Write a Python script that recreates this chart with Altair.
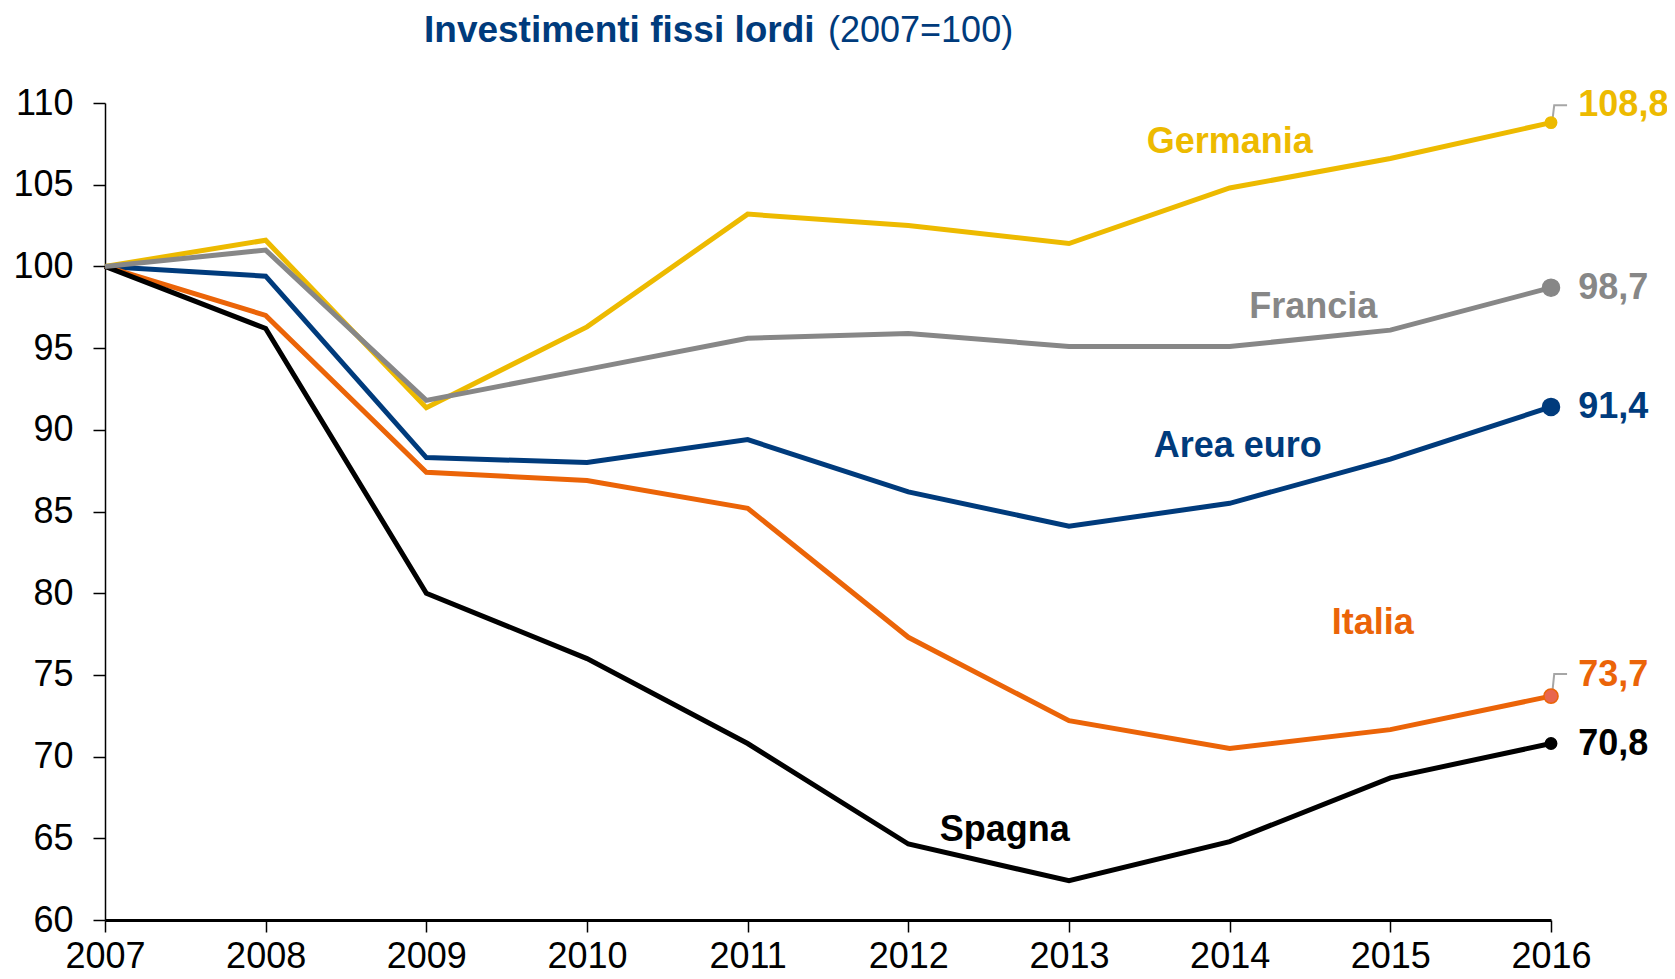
import altair as alt
import pandas as pd

years = [2007, 2008, 2009, 2010, 2011, 2012, 2013, 2014, 2015, 2016]
series_names = ["Germania", "Francia", "Area euro", "Italia", "Spagna"]
germania = [100, 101.6, 91.35, 96.3, 103.2, 102.5, 101.4, 104.8, 106.6, 108.8]
francia = [100, 101.0, 91.8, 93.7, 95.6, 95.9, 95.1, 95.1, 96.1, 98.7]
area_euro = [100, 99.4, 88.3, 88.0, 89.4, 86.2, 84.1, 85.5, 88.2, 91.4]
italia = [100, 97.0, 87.4, 86.9, 85.2, 77.3, 72.2, 70.5, 71.65, 73.7]
spagna = [100, 96.2, 80.0, 76.0, 70.8, 64.65, 62.4, 64.8, 68.7, 70.8]
values = [germania, francia, area_euro, italia, spagna]

end_labels = ["108,8", "98,7", "91,4", "73,7", "70,8"]
end_label_y = [109.9, 98.7, 91.4, 75.0, 70.8]
name_label_x = [2014.0, 2014.52, 2014.05, 2014.89, 2012.6]
name_label_y = [107.6, 97.5, 89.0, 78.2, 65.5]
y_ticks = [60, 65, 70, 75, 80, 85, 90, 95, 100, 105, 110]

leader_series = ["Germania", "Germania", "Germania", "Italia", "Italia", "Italia"]
leader_x = [2016.01, 2016.02, 2016.1, 2016.01, 2016.02, 2016.1]
leader_y = [109.05, 109.86, 109.86, 74.1, 75.05, 75.05]

colors = ["#EDBA00", "#878787", "#003B7C", "#EB6408", "#000000"]
dot_sizes = [130, 290, 290, 200, 130]
dot_fills = ["#EDBA00", "#878787", "#003B7C", "#E8664F", "#000000"]

rows = []
for name, vals in zip(series_names, values):
    for y, v in zip(years, vals):
        rows.append({"series": name, "year": y, "value": v})
df = pd.DataFrame(rows)

color_scale = alt.Scale(domain=series_names, range=colors)

x_enc = alt.X("year:Q",
              scale=alt.Scale(domain=[2007, 2016], nice=False, zero=False),
              axis=alt.Axis(values=years, format="d", title=None, grid=False,
                            labelFontSize=36, labelColor="black", labelFont="Liberation Sans",
                            labelFlush=False, labelPadding=7,
                            domainColor="black", domainWidth=3,
                            tickColor="black", tickSize=12, tickWidth=1.5))
y_enc = alt.Y("value:Q",
              scale=alt.Scale(domain=[60, 110], nice=False, zero=False),
              axis=alt.Axis(values=y_ticks, title=None, grid=False,
                            labelFontSize=36, labelColor="black", labelFont="Liberation Sans",
                            labelPadding=20, labelFlush=False,
                            domainColor="black", domainWidth=1.5,
                            tickColor="black", tickSize=12, tickWidth=1.5))

draw_order = ["Germania", "Area euro", "Italia", "Spagna", "Francia"]
line_layers = []
for name in draw_order:
    line_layers.append(
        alt.Chart(df[df.series == name]).mark_line(strokeWidth=5, color=colors[series_names.index(name)])
        .encode(x=x_enc, y=y_enc)
    )

leader_df = pd.DataFrame({"series": leader_series, "year": leader_x, "value": leader_y})
leaders = alt.Chart(leader_df).mark_line(color="#A6A6A6", strokeWidth=2).encode(
    x="year:Q", y="value:Q", detail="series:N")

dot_layers = []
for i, name in enumerate(series_names):
    d = pd.DataFrame({"year": [years[-1]], "value": [values[i][-1]]})
    dot_layers.append(
        alt.Chart(d).mark_point(filled=True, size=dot_sizes[i], fill=dot_fills[i],
                                stroke=colors[i], strokeWidth=1.5, opacity=1, shape="circle")
        .encode(x="year:Q", y="value:Q")
    )

end_df = pd.DataFrame({"series": series_names, "year": [2016.17] * 5,
                       "value": end_label_y, "label": end_labels})
end_text = alt.Chart(end_df).mark_text(align="left", baseline="middle", fontSize=36,
                                       fontWeight="bold", font="Liberation Sans").encode(
    x="year:Q", y="value:Q", text="label:N",
    color=alt.Color("series:N", scale=color_scale, legend=None))

name_df = pd.DataFrame({"series": series_names, "year": name_label_x, "value": name_label_y})
name_text = alt.Chart(name_df).mark_text(align="center", baseline="middle", fontSize=36,
                                         fontWeight="bold", font="Liberation Sans").encode(
    x="year:Q", y="value:Q", text="series:N",
    color=alt.Color("series:N", scale=color_scale, legend=None))

title_bold = alt.Chart(pd.DataFrame({"t": ["Investimenti fissi lordi"]})).mark_text(
    align="left", baseline="alphabetic", fontSize=37, fontWeight="bold",
    font="Liberation Sans", color="#003B7C").encode(
    x=alt.value(319), y=alt.value(-61), text="t:N")
title_reg = alt.Chart(pd.DataFrame({"t": ["(2007=100)"]})).mark_text(
    align="left", baseline="alphabetic", fontSize=36,
    font="Liberation Sans", color="#003B7C").encode(
    x=alt.value(723), y=alt.value(-61), text="t:N")

chart = alt.layer(*line_layers, leaders, *dot_layers, end_text, name_text,
                  title_bold, title_reg).properties(
    width=1446, height=817,
    autosize=alt.AutoSizeParams(type="none"),
    padding={"left": 97, "top": 95, "right": 116, "bottom": 57},
).configure(background="white", view=alt.ViewConfig(stroke="transparent", strokeWidth=0))

chart.save("out.html", embed_options={"renderer": "svg", "actions": False})
